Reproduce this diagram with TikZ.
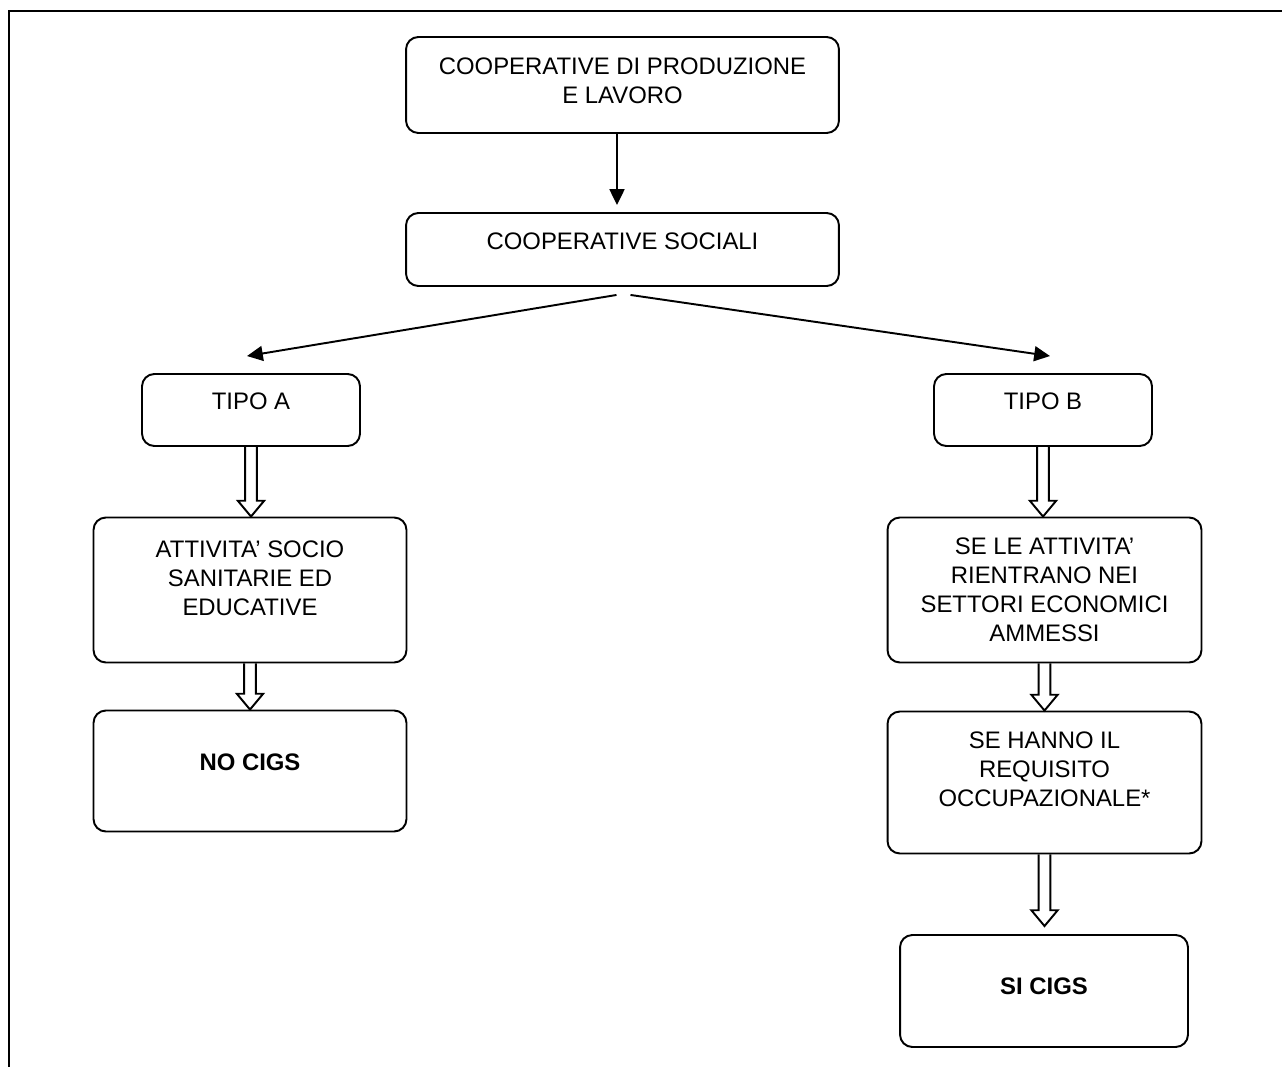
\documentclass[tikz,border=0pt]{standalone}
\usepackage{fontspec}
\setmainfont{Liberation Sans}
\usetikzlibrary{arrows.meta,calc}
\tikzset{
  card/.style={draw=black, fill=white, rounded corners=7pt, line width=1.1pt,
    align=center, inner sep=0pt, font=\fontsize{13.6}{16.5}\selectfont},
  verdict/.style={card, font=\fontsize{13.6}{16.5}\selectfont\bfseries},
  % text sits a little above the middle of its card
  lift/.style={text depth=#1},
  flow/.style={-{Triangle[length=9pt,width=8.5pt]}, line width=1.1pt},
  % the open double arrow between the steps
  hollow/.style={line width=1.1pt, line join=miter,
    to path={let \p1=(\tikztostart), \p2=(\tikztotarget) in
      (\x1-3.3pt,\y1) -- (\x1-3.3pt,\y2+9pt) -- (\x1-7.5pt,\y2+9pt) -- (\x1,\y2)
      -- (\x1+7.5pt,\y2+9pt) -- (\x1+3.3pt,\y2+9pt) -- (\x1+3.3pt,\y1)}},
  frame/.style={line width=1.1pt},
}
\begin{document}
\begin{tikzpicture}[x=0.02cm,y=-0.02cm]
  \useasboundingbox (0,0) rectangle (1282,1067);
  \draw[frame] (1282,11) -- (9,11) -- (9,1067);

  \node[card, lift=4.5pt, minimum width=8.66cm, minimum height=1.92cm] (coop) at (622.5,85)
      {COOPERATIVE DI PRODUZIONE\\ E LAVORO};
  \node[card, lift=9pt, minimum width=8.66cm, minimum height=1.46cm] (soc) at (622.5,249.5)
      {COOPERATIVE SOCIALI};
  \node[card, lift=10pt, minimum width=4.36cm, minimum height=1.44cm] (tipoA) at (251,410) {TIPO A};
  \node[card, lift=10pt, minimum width=4.36cm, minimum height=1.44cm] (tipoB) at (1043,410) {TIPO B};
  \node[card, lift=13.6pt, minimum width=6.26cm, minimum height=2.9cm] (attA) at (250,590)
      {ATTIVITA’ SOCIO\\ SANITARIE ED\\ EDUCATIVE};
  \node[verdict, lift=10pt, minimum width=6.26cm, minimum height=2.42cm] (noA) at (250,771) {NO CIGS};
  \node[card, minimum width=6.28cm, minimum height=2.9cm] (setB) at (1044.5,590)
      {SE LE ATTIVITA’\\ RIENTRANO NEI\\ SETTORI ECONOMICI\\ AMMESSI};
  \node[card, lift=14.7pt, minimum width=6.28cm, minimum height=2.84cm] (reqB) at (1044.5,782.5)
      {SE HANNO IL\\ REQUISITO\\ OCCUPAZIONALE*};
  \node[verdict, lift=5.7pt, minimum width=5.76cm, minimum height=2.24cm] (siB) at (1044,991) {SI CIGS};

  \draw[flow] ($(coop.south)+(-5.5,0)$) -- ($(soc.north)+(-5.5,-7)$);
  \draw[flow] ($(soc.south)+(-6,8)$) -- ($(tipoA.north)+(-4,-17)$);
  \draw[flow] ($(soc.south)+(8,8)$) -- ($(tipoB.north)+(7,-17)$);

  \draw[hollow] (tipoA.south) to (attA.north);
  \draw[hollow] (attA.south) to (noA.north);
  \draw[hollow] (tipoB.south) to (setB.north);
  \draw[hollow] (setB.south) to (reqB.north);
  \draw[hollow] (reqB.south) to ($(siB.north)+(0,-8)$);
\end{tikzpicture}
\end{document}
